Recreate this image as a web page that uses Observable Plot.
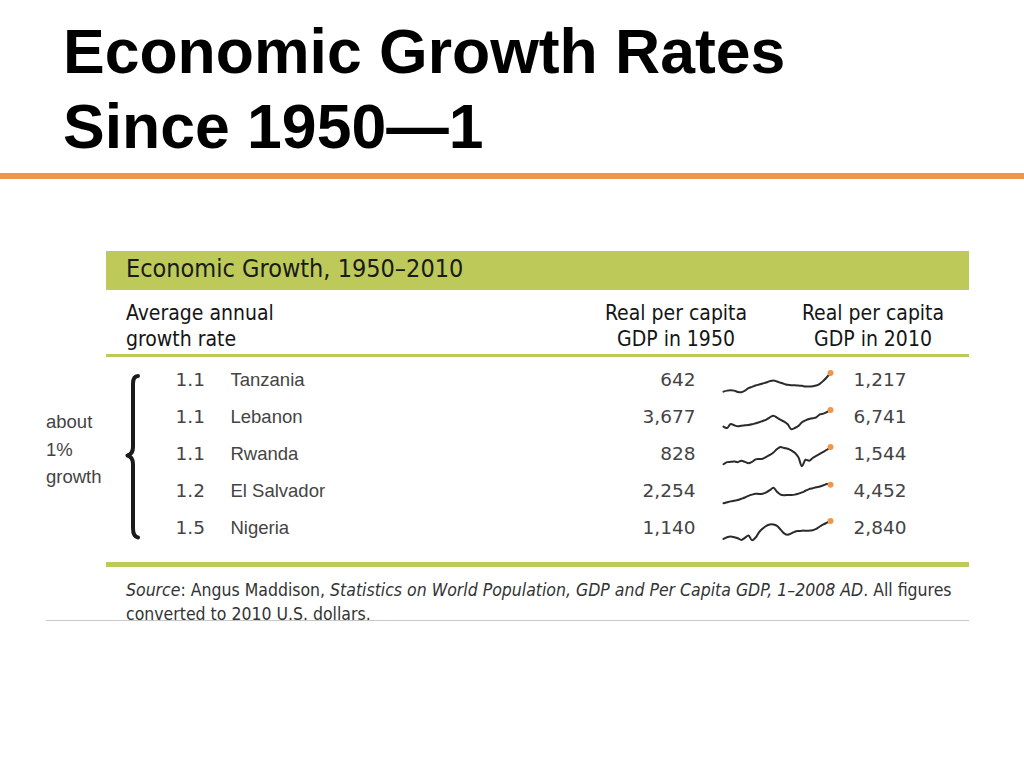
<!DOCTYPE html>
<html>
<head>
<meta charset="utf-8">
<script src="https://cdn.jsdelivr.net/npm/d3@7"></script>
<script src="https://cdn.jsdelivr.net/npm/@observablehq/plot@0.6"></script>
<style>
html, body { margin: 0; padding: 0; background: #fff; }
#page { position: relative; width: 1024px; height: 768px; overflow: hidden; font-family: "Liberation Sans", Arial, sans-serif; }
.abs { position: absolute; white-space: nowrap; }
.cond { font-family: "DejaVu Sans Condensed", "DejaVu Sans", sans-serif; font-stretch: condensed; }
#title { left: 63px; top: 14px; font-weight: bold; font-size: 62.5px; line-height: 75px; color: #000; }
#orange { left: 0; top: 173px; width: 1024px; height: 6px; background: #F0964B; }
#band { left: 106px; top: 251px; width: 863px; height: 39px; background: #BDCA5A; }
#bandText { left: 126px; top: 256px; font-size: 25px; line-height: 25px; color: #1a1a1a; }
.hdr { top: 300px; font-size: 21px; line-height: 26px; color: #151515; }
#hdr1 { left: 126px; }
#hdr2 { left: 576px; width: 200px; text-align: center; }
#hdr3 { left: 773px; width: 200px; text-align: center; }
#rule1 { left: 106px; top: 354px; width: 863px; height: 3px; background: #BDCA5A; }
#rule2 { left: 106px; top: 562px; width: 863px; height: 5px; background: #BDCA5A; }
#about { left: 46px; top: 408px; font-size: 18.5px; line-height: 27.5px; color: #444; }
#brace { left: 120px; top: 370px; }
#chart { left: 0; top: 360px; }
#source { left: 126px; top: 578px; font-size: 17.5px; line-height: 24px; color: #333; }
#grayline { left: 46px; top: 620px; width: 923px; height: 1px; background: #c8c8c8; }
</style>
</head>
<body>
<div id="page">
  <div id="title" class="abs">Economic Growth Rates<br>Since 1950—1</div>
  <div id="orange" class="abs"></div>
  <div id="band" class="abs"></div>
  <div id="bandText" class="abs cond">Economic Growth, 1950–2010</div>
  <div id="hdr1" class="abs cond hdr">Average annual<br>growth rate</div>
  <div id="hdr2" class="abs cond hdr">Real per capita<br>GDP in 1950</div>
  <div id="hdr3" class="abs cond hdr">Real per capita<br>GDP in 2010</div>
  <div id="rule1" class="abs"></div>
  <div id="about" class="abs">about<br>1%<br>growth</div>
  <svg id="brace" class="abs" width="26" height="176" viewBox="0 0 26 176">
    <path d="M18,6 C14.5,6 13,9 13,14 L13,77 C13,82 11,84.5 7.5,85.5 C11,86.5 13,89 13,94 L13,158 C13,163 14.5,167 18,167.5"
          fill="none" stroke="#1a1a1a" stroke-width="4" stroke-linecap="round" stroke-linejoin="round"/>
  </svg>
  <div id="chart" class="abs"></div>
  <div id="rule2" class="abs"></div>
  <div id="source" class="abs cond"><i>Source</i>: Angus Maddison, <i>Statistics on World Population, GDP and Per Capita GDP, 1–2008 AD</i>. All figures<br>converted to 2010 U.S. dollars.</div>
  <div id="grayline" class="abs"></div>
</div>
<script>
// ---- data ----
const countries = ["Tanzania", "Lebanon", "Rwanda", "El Salvador", "Nigeria"];
const growthRates = [1.1, 1.1, 1.1, 1.2, 1.5];
const gdp1950 = [642, 3677, 828, 2254, 1140];
const gdp2010 = [1217, 6741, 1544, 4452, 2840];

const years = [1950, 1952, 1954, 1956, 1958, 1960, 1962, 1964, 1966, 1968,
               1970, 1972, 1974, 1976, 1978, 1980, 1982, 1984, 1986, 1988,
               1990, 1992, 1994, 1996, 1998, 2000, 2002, 2004, 2006, 2008, 2010];

const tanzaniaGdp = [642, 673, 684, 673, 632, 621, 673, 747, 788, 830,
                     861, 893, 924, 966, 987, 956, 914, 882, 851, 841,
                     841, 830, 820, 799, 799, 809, 830, 882, 976, 1091, 1217];
const lebanonGdp = [3677, 3432, 4167, 3922, 3738, 3861, 3922, 3984, 4106, 4290,
                    4474, 4719, 4965, 5393, 5700, 5332, 4903, 4597, 4106, 3187,
                    3432, 3800, 4474, 4842, 5087, 5210, 5393, 5945, 6068, 6374, 6741];
const rwandaGdp = [828, 914, 928, 943, 914, 971, 928, 871, 928, 1028,
                   1043, 1057, 1129, 1215, 1315, 1458, 1544, 1501, 1472, 1401,
                   1301, 1114, 742, 1014, 971, 1086, 1172, 1258, 1344, 1429, 1544];
const elSalvadorGdp = [2254, 2368, 2481, 2557, 2633, 2785, 2936, 3126, 3277, 3391,
                       3353, 3391, 3543, 3808, 4073, 3619, 3277, 3202, 3240, 3240,
                       3277, 3391, 3543, 3732, 3922, 4035, 4149, 4225, 4376, 4528, 4452];
const nigeriaGdp = [1140, 1304, 1369, 1304, 1205, 1042, 1238, 1467, 1009, 1271,
                    1794, 2121, 2383, 2513, 2513, 2383, 2023, 1663, 1532, 1663,
                    1827, 1892, 1925, 1925, 1925, 1958, 2088, 2317, 2513, 2677, 2840];

const series = [tanzaniaGdp, lebanonGdp, rwandaGdp, elSalvadorGdp, nigeriaGdp];

// ---- tables built from the arrays ----
const tableRows = countries.map((c, i) => ({
  country: c, growth: growthRates[i], gdp1950: gdp1950[i], gdp2010: gdp2010[i]
}));
const sparkRows = [];
countries.forEach((c, i) => {
  const vals = series[i];
  const lo = d3.min(vals), hi = d3.max(vals);
  years.forEach((yr, j) => sparkRows.push({country: c, year: yr, value: vals[j], norm: (vals[j] - lo) / (hi - lo)}));
});

const fmt = d3.format(",");
const numFont = "DejaVu Sans, sans-serif";
const txtFont = "Liberation Sans, Arial, sans-serif";

const chart = Plot.plot({
  width: 1024,
  height: 190,
  marginTop: 1, marginBottom: 3, marginLeft: 0, marginRight: 0,
  x: {domain: [1950, 2010], range: [723, 830], axis: null},
  y: {domain: [0, 1], axis: null, insetTop: 10.5, insetBottom: 7.2},
  fy: {domain: countries, padding: 0, axis: null, label: null},
  style: {background: "transparent", overflow: "visible", fontFamily: txtFont},
  marks: [
    Plot.line(sparkRows, {fy: "country", x: "year", y: "norm", z: "country",
      stroke: "#2b2b2b", strokeWidth: 2, curve: "catmull-rom"}),
    Plot.dot(sparkRows, {filter: d => d.year === 2010, fy: "country", x: "year", y: "norm",
      r: 3, fill: "#F0964B", stroke: "none"}),
    Plot.text(tableRows, {fy: "country", text: d => d.growth.toFixed(1), frameAnchor: "left",
      dx: 175, dy: -1, textAnchor: "start", fontSize: 18.5, fill: "#444", fontFamily: numFont}),
    Plot.text(tableRows, {fy: "country", text: "country", frameAnchor: "left",
      dx: 230, dy: -1, textAnchor: "start", fontSize: 18.5, fill: "#444", fontFamily: txtFont}),
    Plot.text(tableRows, {fy: "country", text: d => fmt(d.gdp1950), frameAnchor: "left",
      dx: 695, dy: -1, textAnchor: "end", fontSize: 18.5, fill: "#444", fontFamily: numFont}),
    Plot.text(tableRows, {fy: "country", text: d => fmt(d.gdp2010), frameAnchor: "left",
      dx: 853, dy: -1, textAnchor: "start", fontSize: 18.5, fill: "#444", fontFamily: numFont})
  ]
});
document.getElementById("chart").appendChild(chart);
</script>
</body>
</html>
